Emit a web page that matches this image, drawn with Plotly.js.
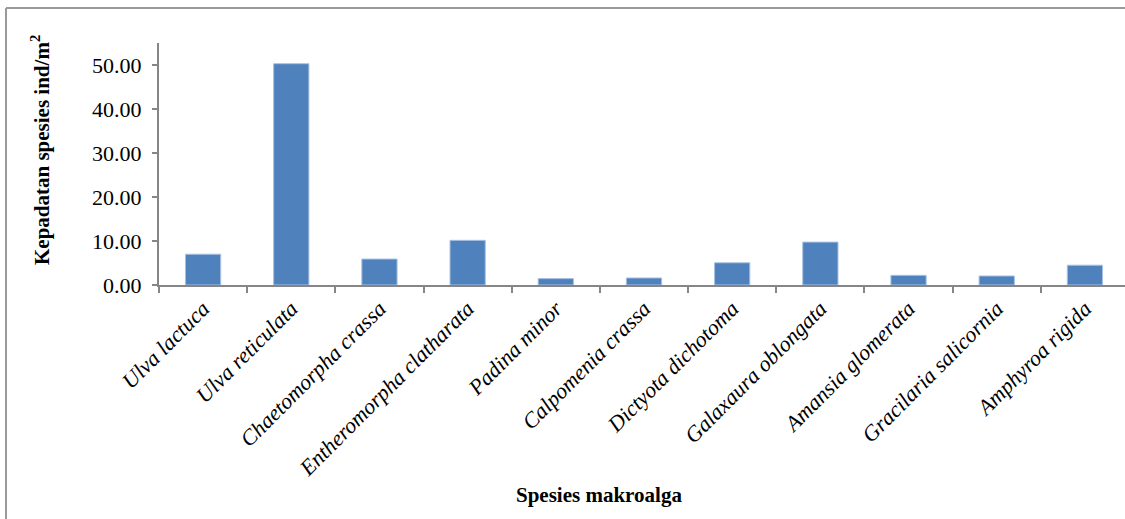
<!DOCTYPE html>
<html>
<head>
<meta charset="utf-8">
<script src="https://cdn.plot.ly/plotly-3.0.1.min.js"></script>
<style>
html,body{margin:0;padding:0;overflow:hidden;background:#fff;}
#chart{width:1130px;height:519px;}
</style>
</head>
<body>
<div id="chart"></div>
<script>
const categories = [
  "Ulva lactuca", "Ulva reticulata", "Chaetomorpha crassa", "Entheromorpha clatharata",
  "Padina minor", "Calpomenia crassa", "Dictyota dichotoma", "Galaxaura oblongata",
  "Amansia glomerata", "Gracilaria salicornia", "Amphyroa rigida"
];
const density = [7.0, 50.3, 5.9, 10.15, 1.45, 1.6, 5.05, 9.75, 2.2, 2.05, 4.5];
const yTickVals = [0, 10, 20, 30, 40, 50];
const yTickText = ["0.00", "10.00", "20.00", "30.00", "40.00", "50.00"];

const serif = "'Liberation Serif', 'Times New Roman', serif";

const trace = {
  type: "bar",
  x: categories,
  y: density,
  marker: {color: "#4F81BD", line: {color: "#A9C2E2", width: 1}},
  hoverinfo: "x+y"
};

const layout = {
  width: 1130,
  height: 519,
  margin: {l: 159, r: 1, t: 43, b: 234},
  paper_bgcolor: "#ffffff",
  plot_bgcolor: "#ffffff",
  showlegend: false,
  bargap: 0.6,
  font: {family: serif, color: "#000000", size: 21},
  xaxis: {
    type: "category",
    tickmode: "array",
    tickvals: categories,
    ticktext: categories.map(c => "<i>" + c + "</i>"),
    tickangle: -45,
    tickson: "boundaries",
    ticks: "outside",
    ticklen: 6,
    tickwidth: 2,
    tickcolor: "#868686",
    showline: true,
    linecolor: "#868686",
    linewidth: 2,
    showgrid: false,
    zeroline: false,
    tickfont: {family: serif, size: 22, color: "#000000"}
  },
  yaxis: {
    range: [0, 55],
    tickmode: "array",
    tickvals: yTickVals,
    ticktext: yTickText,
    ticks: "outside",
    ticklen: 5,
    tickwidth: 2,
    tickcolor: "#868686",
    showline: true,
    linecolor: "#868686",
    linewidth: 2,
    showgrid: false,
    zeroline: false,
    ticklabelstandoff: 6,
    tickfont: {family: serif, size: 22, color: "#000000"}
  },
  annotations: [
    {
      text: "<b>Kepadatan spesies ind/m<sup>2</sup></b>",
      xref: "paper", yref: "paper",
      x: (40 - 159) / 970, y: (285 - 150) / 242,
      xanchor: "center", yanchor: "middle",
      textangle: -90, showarrow: false,
      font: {family: serif, size: 21, color: "#000000"}
    },
    {
      text: "<b>Spesies makroalga</b>",
      xref: "paper", yref: "paper",
      x: (599 - 159) / 970, y: (285 - 495) / 242,
      xanchor: "center", yanchor: "middle",
      showarrow: false,
      font: {family: serif, size: 21, color: "#000000"}
    }
  ],
  shapes: [
    {type: "line", xref: "paper", yref: "paper",
     x0: (6 - 159) / 970, x1: (6 - 159) / 970, y0: 1.1446, y1: (285 - 525) / 242,
     line: {color: "#9a9a9a", width: 2}},
    {type: "line", xref: "paper", yref: "paper",
     x0: (6 - 159) / 970, x1: 1.01, y0: 1.1446, y1: 1.1446,
     line: {color: "#9a9a9a", width: 2}}
  ]
};

Plotly.newPlot("chart", [trace], layout, {displayModeBar: false, staticPlot: true});
</script>
</body>
</html>
